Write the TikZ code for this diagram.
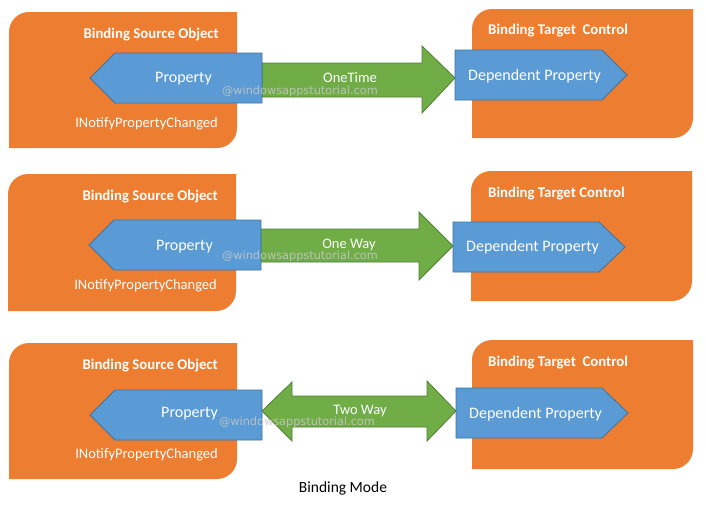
\documentclass[tikz,border=0pt]{standalone}
\usepackage{fontspec}
\setmainfont{Carlito}
\newfontfamily\wmfont{DejaVu Sans}
\definecolor{orng}{HTML}{ED7D31}
\definecolor{blu}{HTML}{5B9BD5}
\definecolor{bluedge}{HTML}{41719C}
\definecolor{grn}{HTML}{70AD47}
\definecolor{grnedge}{HTML}{507E32}
\definecolor{wmgray}{HTML}{C8C8C8}
\tikzset{
 holder/.style={fill=orng},
 propshape/.style={fill=blu, draw=bluedge, line width=0.8pt, line join=miter},
 arrowshape/.style={fill=grn, draw=grnedge, line width=0.8pt, line join=miter},
 lbl/.style={text=white, font=\fontsize{14.5}{17}\selectfont, inner sep=0pt, yshift=-2pt},
 biglbl/.style={text=white, font=\fontsize{16}{19}\selectfont, inner sep=0pt, yshift=-2pt},
 ttl/.style={text=white, font=\bfseries\fontsize{14.8}{17}\selectfont, inner sep=0pt, yshift=-2pt},
 wm/.style={text=wmgray, text opacity=0.85, font=\wmfont\fontsize{11.3}{13}\selectfont, inner sep=0pt, yshift=-1pt},
 captxt/.style={text=black, font=\fontsize{15.5}{18}\selectfont, inner sep=0pt, yshift=-1pt},
}
% holder box with rounded top-left and bottom-right corners: x1 y1 x2 y2
\newcommand\holderbox[4]{%
 \fill[holder] (#1,#4) -- (#1,#2+20) arc[start angle=180,end angle=270,radius=20]
   -- (#3,#2) -- (#3,#4-20) arc[start angle=0,end angle=90,radius=20] -- cycle;}
\begin{document}
\begin{tikzpicture}[x=1pt,y=-1pt]
\useasboundingbox (0,0) rectangle (706,509);
% ---------------- Row 1 ----------------
\holderbox{9}{12}{237}{148}
\holderbox{472}{9}{693}{138}
\draw[arrowshape] (262,63) -- (422,63) -- (422,46) -- (455,78) -- (422,113) -- (422,97) -- (262,97) -- cycle;
\draw[propshape] (262,53) -- (115,53) -- (90,78) -- (115,103) -- (262,103) -- cycle;
\draw[propshape] (455,50) -- (602,50) -- (627,75) -- (602,100) -- (455,100) -- cycle;
\node[ttl, anchor=east] (s1) at (219,33) {Binding Source Object};
\node[biglbl, anchor=east] (p1) at (212,77) {Property};
\node[lbl, anchor=east] (n1) at (218,122) {INotifyPropertyChanged};
\node[ttl, anchor=west] (t1) at (488,29) {Binding Target\ \ Control};
\node[biglbl, anchor=west] (d1) at (468,74) {Dependent Property};
\node[lbl] (m1) at (350,76) {OneTime};
\node[wm] (w1) at (300,90) {@windowsappstutorial.com};
% ---------------- Row 2 ----------------
\holderbox{8}{174}{236}{311}
\holderbox{471}{171}{692}{301}
\draw[arrowshape] (261,229) -- (419,229) -- (419,212) -- (453,246) -- (419,280) -- (419,262) -- (261,262) -- cycle;
\draw[propshape] (261,220) -- (114,220) -- (89,245) -- (114,270) -- (261,270) -- cycle;
\draw[propshape] (453,222) -- (599,222) -- (625,247) -- (599,272) -- (453,272) -- cycle;
\node[ttl, anchor=east] (s2) at (218,195) {Binding Source Object};
\node[biglbl, anchor=east] (p2) at (213,245) {Property};
\node[lbl, anchor=east] (n2) at (217,284) {INotifyPropertyChanged};
\node[ttl, anchor=west] (t2) at (488,192) {Binding Target Control};
\node[biglbl, anchor=west] (d2) at (466,245) {Dependent Property};
\node[lbl] (m2) at (349,243) {One Way};
\node[wm] (w2) at (300,255) {@windowsappstutorial.com};
% ---------------- Row 3 ----------------
\holderbox{9}{343}{237}{479}
\holderbox{472}{340}{693}{469}
\draw[arrowshape] (262,411) -- (292,382) -- (292,396) -- (427,396) -- (427,381) -- (456,411) -- (427,441) -- (427,427) -- (292,427) -- (292,441) -- cycle;
\draw[propshape] (262,390) -- (115,390) -- (90,415) -- (115,440) -- (262,440) -- cycle;
\draw[propshape] (456,388) -- (602,388) -- (628,413) -- (602,438) -- (456,438) -- cycle;
\node[ttl, anchor=east] (s3) at (218,364) {Binding Source Object};
\node[biglbl, anchor=east] (p3) at (218,412) {Property};
\node[lbl, anchor=east] (n3) at (218,453) {INotifyPropertyChanged};
\node[ttl, anchor=west] (t3) at (488,361) {Binding Target\ \ Control};
\node[biglbl, anchor=west] (d3) at (469,412) {Dependent Property};
\node[lbl] (m3) at (360,409) {Two Way};
\node[wm] (w3) at (297,421) {@windowsappstutorial.com};
% caption
\node[captxt] (capt) at (343,487) {Binding Mode};
\end{tikzpicture}
\end{document}
